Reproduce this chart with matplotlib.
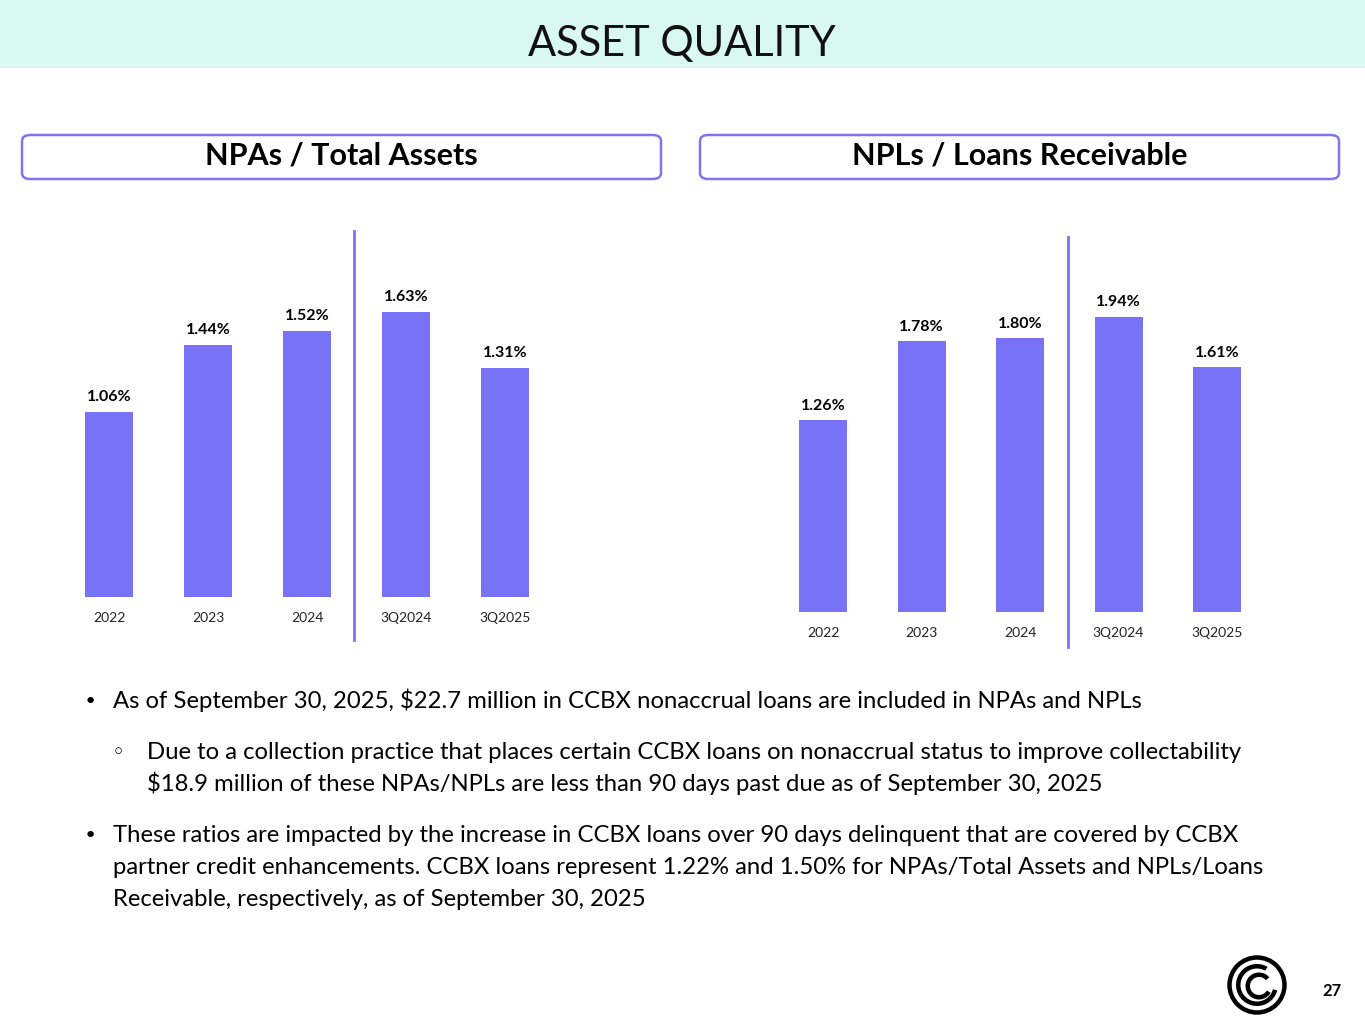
import matplotlib
matplotlib.use("Agg")
import matplotlib.pyplot as plt
from matplotlib.patches import FancyBboxPatch, Rectangle, Circle, Wedge

plt.rcParams['font.family'] = ['Lato', 'DejaVu Sans']

categories = ['2022', '2023', '2024', '3Q2024', '3Q2025']
npa_total_assets = [1.06, 1.44, 1.52, 1.63, 1.31]
npl_loans = [1.26, 1.78, 1.80, 1.94, 1.61]
panel_titles = ['NPAs / Total Assets', 'NPLs / Loans Receivable']

bullets = [
    (0, ['As of September 30, 2025, $22.7 million in CCBX nonaccrual loans are included in NPAs and NPLs']),
    (1, ['Due to a collection practice that places certain CCBX loans on nonaccrual status to improve collectability',
         '$18.9 million of these NPAs/NPLs are less than 90 days past due as of September 30, 2025']),
    (0, ['These ratios are impacted by the increase in CCBX loans over 90 days delinquent that are covered by CCBX',
         'partner credit enhancements. CCBX loans represent 1.22% and 1.50% for NPAs/Total Assets and NPLs/Loans',
         'Receivable, respectively, as of September 30, 2025']),
]

BAR = '#7872f7'
W, H = 1365, 1024
fig = plt.figure(figsize=(W / 100, H / 100), dpi=100, facecolor='white')


def px(x, y):
    # pixel (from top-left) -> figure fraction
    return x / W, 1 - y / H


# title band
fig.add_artist(Rectangle((0, 1 - 68 / H), 1, 68 / H, transform=fig.transFigure,
                         facecolor='#d9f8f2', edgecolor='none'))
fig.text(*px(682, 44), 'ASSET QUALITY', ha='center', va='center',
         fontsize=30, fontweight='normal', color='#111111')

# panel headers
for (x0, x1), title in zip([(22, 661), (700, 1339)], panel_titles):
    fx, fy = px(x0, 179)
    fig.add_artist(FancyBboxPatch((fx, fy), (x1 - x0) / W, 44 / H,
                                  boxstyle='round,pad=0,rounding_size=0.006',
                                  transform=fig.transFigure, facecolor='white',
                                  edgecolor='#7e76ee', linewidth=1.8))
    fig.text(*px((x0 + x1) / 2, 156), title, ha='center', va='center',
             fontsize=22, fontweight='bold', color='black')


def bar_panel(left, spacing, bottom, scale, ymax, values, div_x, div_top, div_bot):
    width = spacing * 5
    height = scale * ymax
    ax = fig.add_axes([left / W, 1 - bottom / H, width / W, height / H])
    x = list(range(len(categories)))
    ax.bar(x, values, width=48 / spacing, color=BAR)
    ax.set_xlim(-0.5, 4.5)
    ax.set_ylim(0, ymax)
    for xi, v in zip(x, values):
        ax.annotate(f'{v:.2f}%', (xi, v), xytext=(0, 5.5), textcoords='offset points',
                    ha='center', va='bottom', fontsize=11.5, fontweight='bold')
    ax.set_xticks(x)
    ax.set_xticklabels(categories, fontsize=10, color='#222222')
    ax.tick_params(axis='x', length=0, pad=11)
    ax.set_yticks([])
    for s in ax.spines.values():
        s.set_visible(False)
    ax.axvline(div_x, ymin=(bottom - div_bot) / height, ymax=(bottom - div_top) / height,
               color=BAR, lw=2, clip_on=False)
    return ax


bar_panel(59.5, 99, 597, 175, 2.0, npa_total_assets, 2.475, 231, 640)
bar_panel(773.75, 98.5, 612, 152, 2.4, npl_loans, 2.49, 237, 647)

# bullet text
y = 708
for i, (level, lines) in enumerate(bullets):
    if i > 0:
        y += 19
    mark_x, text_x = (90, 113) if level == 0 else (118, 147)
    mark = '\u2022' if level == 0 else '\u25e6'
    fig.text(*px(mark_x, y), mark, ha='center', va='baseline', fontsize=16,
             family=['DejaVu Sans'])
    for line in lines:
        fig.text(*px(text_x, y), line, ha='left', va='baseline', fontsize=17.2,
                 color='black')
        y += 32

# logo
cx, cy = px(1257, 985)
ax_logo = fig.add_axes([cx - 34 / W, cy - 34 / H, 68 / W, 68 / H])
ax_logo.set_xlim(-34, 34)
ax_logo.set_ylim(-34, 34)
ax_logo.set_aspect('equal')
ax_logo.axis('off')
ax_logo.add_patch(Circle((0, 0), 27.5, facecolor='none', edgecolor='black', lw=3.2))
ax_logo.add_patch(Wedge((0, 0), 21, 60, 345, width=4.5, facecolor='black'))
ax_logo.add_patch(Wedge((2, -1), 13.5, 40, 330, width=4.5, facecolor='black'))
fig.text(*px(1332, 991), '27', ha='center', va='center', fontsize=12,
         fontweight='bold')

fig.savefig('out.png', dpi=100, facecolor='white')
